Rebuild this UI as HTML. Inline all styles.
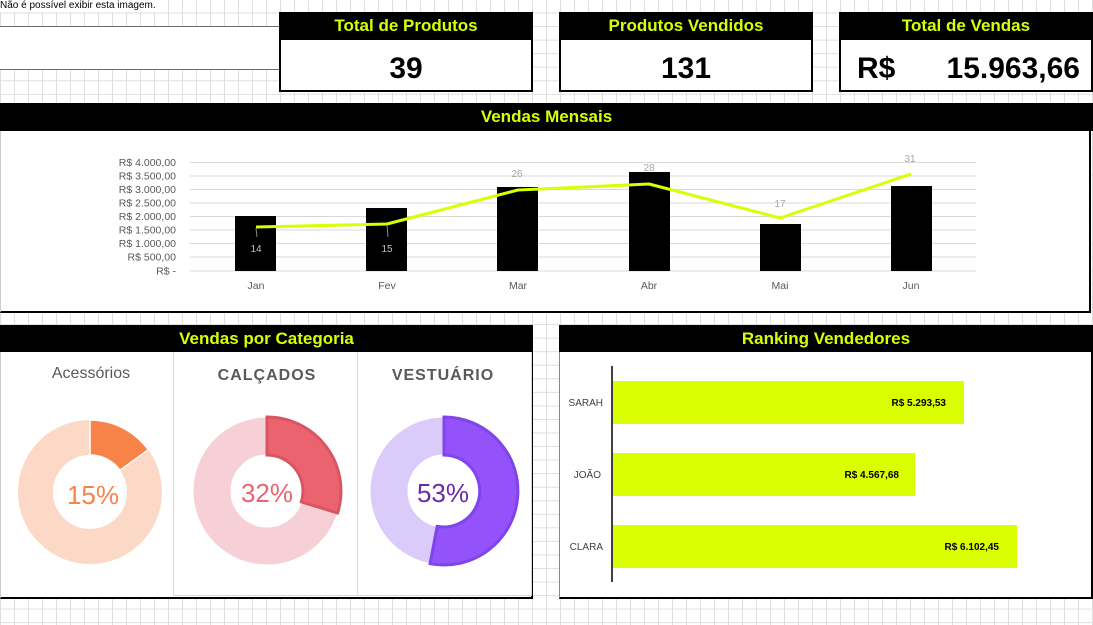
<!DOCTYPE html>
<html><head><meta charset="utf-8"><style>
*{margin:0;padding:0;box-sizing:border-box}
body{width:1093px;height:625px;overflow:hidden;position:relative;font-family:"Liberation Sans",sans-serif;
background-color:#fff;
background-image:linear-gradient(to right,#dedede 1px,transparent 1px),linear-gradient(to bottom,#dedede 1px,transparent 1px);
background-size:14px 13.55px;background-position:0 -1px}
.a{position:absolute}
.hdr{position:absolute;background:#000;color:#d9ff00;font-weight:bold;font-size:17px;text-align:center;line-height:27px;font-family:"Liberation Sans Narrow","Liberation Sans",sans-serif}
.card{position:absolute;background:#fff;border:2px solid #000}
.big{position:absolute;font-weight:bold;font-size:30px;color:#000;font-family:"Liberation Sans Narrow","Liberation Sans",sans-serif}
</style></head><body>
<div class="a" style="left:0;top:0;font-size:10px;line-height:12px;background:#fff;padding-right:2px">Não é possível exibir esta imagem.</div>
<div class="a" style="left:0;top:26px;width:281px;height:44px;background:#fff;border:1px solid #6b6b6b;border-left:none"></div>

<div class="card" style="left:279px;top:12px;width:254px;height:80px"></div>
<div class="hdr" style="left:279px;top:12px;width:254px;height:28px">Total de Produtos</div>
<div class="big" style="left:279px;width:254px;top:52px;text-align:center">39</div>

<div class="card" style="left:559px;top:12px;width:254px;height:80px"></div>
<div class="hdr" style="left:559px;top:12px;width:254px;height:28px">Produtos Vendidos</div>
<div class="big" style="left:559px;width:254px;top:52px;text-align:center">131</div>

<div class="card" style="left:839px;top:12px;width:254px;height:80px"></div>
<div class="hdr" style="left:839px;top:12px;width:254px;height:28px">Total de Vendas</div>
<div class="big" style="left:857px;top:52px">R$</div>
<div class="big" style="left:900px;width:180px;top:52px;text-align:right">15.963,66</div>

<div class="a" style="left:0;top:103px;width:1091px;height:210px;background:#fff;border:2px solid #000;border-top:none;border-left:1px solid #ccc"></div>
<div class="hdr" style="left:0;top:103px;width:1093px;height:28px">Vendas Mensais</div>
<svg class="a" style="left:0;top:131px" width="1093" height="180">
<g font-family="Liberation Sans" font-size="10.5" fill="#595959" text-anchor="end">
<text x="176" y="35">R$ 4.000,00</text><text x="176" y="48.5">R$ 3.500,00</text><text x="176" y="62">R$ 3.000,00</text><text x="176" y="75.5">R$ 2.500,00</text><text x="176" y="89">R$ 2.000,00</text><text x="176" y="102.5">R$ 1.500,00</text><text x="176" y="116">R$ 1.000,00</text><text x="176" y="129.5">R$ 500,00</text><text x="176" y="143.5">R$ -</text>
</g>
<g stroke="#d9d9d9" stroke-width="1">
<line x1="190" x2="976" y1="31.5" y2="31.5"/><line x1="190" x2="976" y1="45" y2="45"/><line x1="190" x2="976" y1="58.5" y2="58.5"/><line x1="190" x2="976" y1="72" y2="72"/><line x1="190" x2="976" y1="85.5" y2="85.5"/><line x1="190" x2="976" y1="99" y2="99"/><line x1="190" x2="976" y1="112.5" y2="112.5"/><line x1="190" x2="976" y1="126" y2="126"/><line x1="190" x2="976" y1="140" y2="140"/>
</g>
<g fill="#000">
<rect x="235" y="85" width="41" height="55"/><rect x="366" y="77" width="41" height="63"/><rect x="497" y="56" width="41" height="84"/><rect x="629" y="41" width="41" height="99"/><rect x="760" y="93" width="41" height="47"/><rect x="891" y="55" width="41" height="85"/>
</g>
<polyline points="256,96 387,93 518,59 649,53 780,87 911,43" fill="none" stroke="#d9ff00" stroke-width="3" stroke-linejoin="round"/>
<line x1="256" y1="97" x2="257" y2="106" stroke="#888"/><line x1="387" y1="94" x2="388" y2="106" stroke="#888"/>
<g font-size="10" fill="#a6a6a6" text-anchor="middle">
<text x="256" y="121" fill="#bfbfbf">14</text><text x="387" y="121" fill="#bfbfbf">15</text><text x="517" y="46">26</text><text x="649" y="40">28</text><text x="780" y="76">17</text><text x="910" y="31">31</text>
</g>
<g font-size="10.5" fill="#595959" text-anchor="middle">
<text x="256" y="158">Jan</text><text x="387" y="158">Fev</text><text x="518" y="158">Mar</text><text x="649" y="158">Abr</text><text x="780" y="158">Mai</text><text x="911" y="158">Jun</text>
</g>
</svg>

<div class="a" style="left:0;top:325px;width:533px;height:274px;background:#fff;border-bottom:2px solid #000;border-right:2px solid #000;border-left:1px solid #ccc"></div>
<div class="hdr" style="left:0;top:325px;width:533px;height:27px">Vendas por Categoria</div>
<div class="a" style="left:173px;top:352px;width:185px;height:244px;border:1px solid #d9d9d9;border-top:none"></div>
<div class="a" style="left:357px;top:352px;width:175px;height:244px;border-right:1px solid #d9d9d9;border-bottom:1px solid #d9d9d9"></div>
<svg class="a" style="left:0;top:352px" width="533" height="245">
<text x="91" y="26" text-anchor="middle" font-size="16" fill="#595959">Acessórios</text>
<text x="267" y="28" text-anchor="middle" font-size="16" font-weight="bold" fill="#595959" letter-spacing="1">CALÇADOS</text>
<text x="443" y="28" text-anchor="middle" font-size="16" font-weight="bold" fill="#595959" letter-spacing="1">VESTUÁRIO</text>
<circle cx="90" cy="140" r="54.5" fill="none" stroke="#fcd9c6" stroke-width="35"/>
<path d="M90 68 A72 72 0 0 1 148.3 97.7 L120 118.2 A37 37 0 0 0 90 103 Z" fill="#f88349" stroke="#fff" stroke-width="1.5"/>
<text x="93" y="152" text-anchor="middle" font-size="26" fill="#f88349">15%</text>
<circle cx="267" cy="139" r="55" fill="none" stroke="#f6d0d6" stroke-width="37"/>
<path d="M267 65 A74 74 0 0 1 337.6 161 L301.3 149.9 A36 36 0 0 0 267 103 Z" fill="#ec6370" stroke="#d85663" stroke-width="3"/>
<text x="267" y="150" text-anchor="middle" font-size="26" fill="#ec6370">32%</text>
<circle cx="444" cy="139" r="55" fill="none" stroke="#dacbfb" stroke-width="37"/>
<path d="M444 65 A74 74 0 1 1 430.1 211.7 L437.2 174.4 A36 36 0 1 0 444 103 Z" fill="#9352fa" stroke="#8044ea" stroke-width="3"/>
<text x="443" y="150" text-anchor="middle" font-size="26" fill="#6a2ba8">53%</text>
</svg>

<div class="a" style="left:559px;top:325px;width:534px;height:274px;background:#fff;border-bottom:2px solid #000;border-right:2px solid #000;border-left:1px solid #888"></div>
<div class="hdr" style="left:559px;top:325px;width:534px;height:27px">Ranking Vendedores</div>
<svg class="a" style="left:559px;top:352px" width="534" height="245">
<line x1="53" y1="14" x2="53" y2="230" stroke="#404040" stroke-width="2"/>
<rect x="54" y="29" width="351" height="43" fill="#d9ff00"/>
<rect x="54" y="101" width="302" height="43" fill="#d9ff00"/>
<rect x="54" y="173" width="404" height="43" fill="#d9ff00"/>
<g font-size="10" fill="#404040" text-anchor="end">
<text x="44" y="54">SARAH</text><text x="42" y="126">JOÃO</text><text x="44" y="198">CLARA</text>
</g>
<g font-size="10" font-weight="bold" fill="#000" text-anchor="end">
<text x="387" y="54">R$ 5.293,53</text><text x="340" y="126">R$ 4.567,68</text><text x="440" y="198">R$ 6.102,45</text>
</g>
</svg>
</body></html>
